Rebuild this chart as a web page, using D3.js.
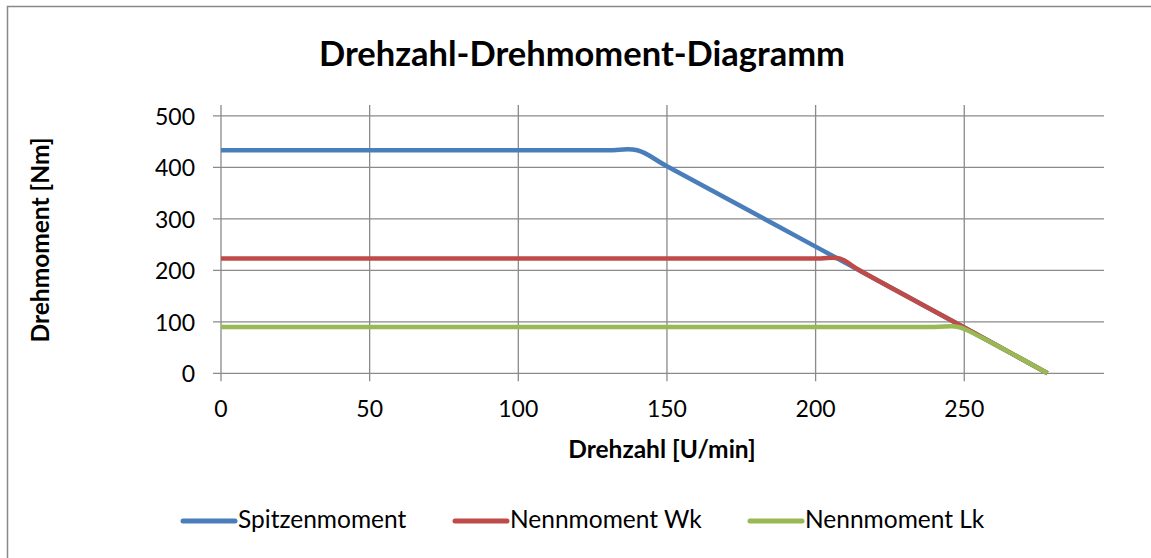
<!DOCTYPE html>
<html>
<head>
<meta charset="utf-8">
<script src="https://cdn.jsdelivr.net/npm/d3@7"></script>
<style>
    body { margin: 0; background: #fff; }
    svg { display: block; }
    text { font-family: Lato, "Open Sans", sans-serif; fill: #000; }
</style>
</head>
<body>
<svg id="chart-svg" width="1151" height="558"></svg>
<script>
// data
var seriesNames = ['Spitzenmoment', 'Nennmoment Wk', 'Nennmoment Lk']
var seriesColors = ['#4a7ebb', '#be4b48', '#98b954']
var spitzen = [[0, 433], [50, 433], [100, 433], [130, 433], [140, 433], [150, 402], [200, 246], [250, 89], [278, 0]]
var nennWk = [[0, 223], [100, 223], [200, 223], [208, 223], [215, 199], [250, 89], [278, 0]]
var nennLk = [[0, 90], [100, 90], [200, 90], [240, 90], [248, 90], [255, 72], [278, 0]]
var xTicks = [0, 50, 100, 150, 200, 250]
var yTicks = [0, 100, 200, 300, 400, 500]

var svg = d3.select('#chart-svg')

// outer chart frame (right/bottom sides lie outside the picture)
svg.append('rect')
    .attr('x', 7.5).attr('y', 6.5)
    .attr('width', 1160).attr('height', 570)
    .attr('fill', 'none').attr('stroke', '#888').attr('stroke-width', 1.5)

var conf = { left: 221, right: 1104, top: 115.8, bottom: 373.3 }
var x = d3.scaleLinear().domain([0, 297]).range([conf.left, conf.right])
var y = d3.scaleLinear().domain([0, 500]).range([conf.bottom, conf.top])

var grid = svg.append('g').attr('stroke', '#8a8a8a').attr('stroke-width', 1.3)
// horizontal gridlines with tick stubs on the left
grid.selectAll('.hg').data(yTicks).enter().append('line')
    .attr('x1', conf.left - 8).attr('x2', conf.right)
    .attr('y1', d => y(d)).attr('y2', d => y(d))
// vertical gridlines with tick stubs below
grid.selectAll('.vg').data(xTicks).enter().append('line')
    .attr('x1', d => x(d)).attr('x2', d => x(d))
    .attr('y1', 105).attr('y2', conf.bottom + 8)

// tick labels
svg.append('g').selectAll('text').data(yTicks).enter().append('text')
    .attr('x', 195).attr('y', d => y(d) + 9)
    .attr('text-anchor', 'end').attr('font-size', 23)
    .text(d => d)
svg.append('g').selectAll('text').data(xTicks).enter().append('text')
    .attr('x', d => x(d)).attr('y', 417)
    .attr('text-anchor', 'middle').attr('font-size', 23)
    .text(d => d)

// lines
var line = d3.line()
    .x(d => x(d[0]))
    .y(d => y(d[1]))
    .curve(d3.curveCatmullRom.alpha(0.5))

var all = [spitzen, nennWk, nennLk]
all.forEach((s, i) => {
    svg.append('path')
        .attr('d', line(s))
        .attr('fill', 'none')
        .attr('stroke', seriesColors[i])
        .attr('stroke-width', 4.5)
        .attr('stroke-linejoin', 'round')
})

// titles
svg.append('text')
    .attr('x', 582).attr('y', 66)
    .attr('text-anchor', 'middle').attr('font-size', 34.5).attr('font-weight', 'bold')
    .text('Drehzahl-Drehmoment-Diagramm')
svg.append('text')
    .attr('x', 662).attr('y', 458)
    .attr('text-anchor', 'middle').attr('font-size', 24.5).attr('font-weight', 'bold')
    .text('Drehzahl [U/min]')
svg.append('text')
    .attr('transform', 'translate(49,240) rotate(-90)')
    .attr('text-anchor', 'middle').attr('font-size', 24.5).attr('font-weight', 'bold')
    .text('Drehmoment [Nm]')

// legend
var legX = [181, 453, 748]
var leg = svg.append('g')
seriesNames.forEach((n, i) => {
    leg.append('line')
        .attr('x1', legX[i] + 2).attr('x2', legX[i] + 54)
        .attr('y1', 521).attr('y2', 521)
        .attr('stroke', seriesColors[i]).attr('stroke-width', 5)
        .attr('stroke-linecap', 'round')
    leg.append('text')
        .attr('x', legX[i] + 57).attr('y', 528)
        .attr('font-size', 24.5)
        .text(n)
})
</script>
</body>
</html>
